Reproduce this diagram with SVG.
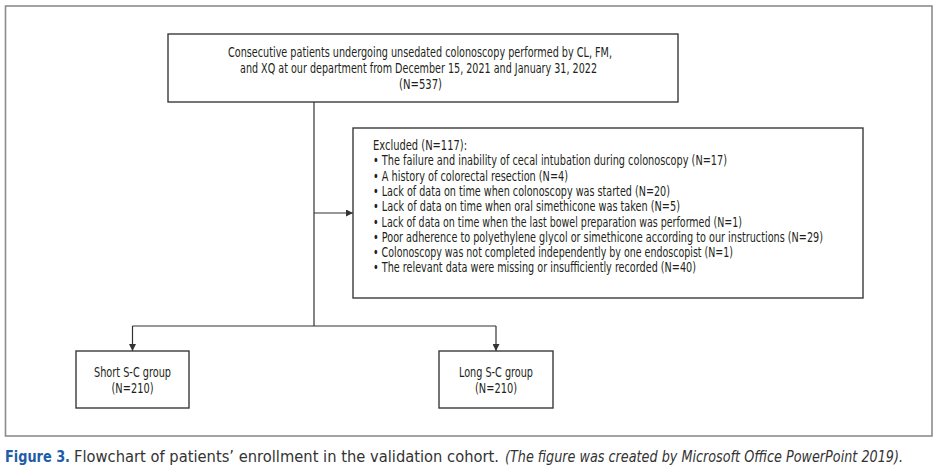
<svg xmlns="http://www.w3.org/2000/svg" width="937" height="473" viewBox="0 0 937 473">
<defs>
<style>
.t{font-family:"Liberation Sans Narrow","DejaVu Sans Condensed","Liberation Sans",sans-serif;font-size:14.5px;fill:#231f20}
.box{fill:#fff;stroke:#3a3a3a;stroke-width:1.4}
.con{fill:none;stroke:#333;stroke-width:1.2}
.cap{font-family:"Liberation Sans Narrow","DejaVu Sans Condensed","Liberation Sans",sans-serif;font-size:15.5px;fill:#333}
</style>
<marker id="ah" viewBox="0 0 10 10" refX="10" refY="5" markerWidth="7" markerHeight="7" markerUnits="userSpaceOnUse" orient="auto">
<path d="M0,0 L10,5 L0,10 z" fill="#333"/>
</marker>
</defs>
<rect x="0" y="0" width="937" height="473" fill="#fff"/>
<rect x="5.5" y="6" width="926.5" height="430" fill="none" stroke="#8c8c8c" stroke-width="1.6"/>

<g id="connectors">
<line class="con" x1="314" y1="102" x2="314" y2="326"/>
<line class="con" x1="314" y1="213" x2="353" y2="213" marker-end="url(#ah)"/>
<polyline class="con" points="132.5,326 496,326"/>
<line class="con" x1="132.5" y1="326" x2="132.5" y2="351" marker-end="url(#ah)"/>
<line class="con" x1="496" y1="326" x2="496" y2="351" marker-end="url(#ah)"/>
</g>

<g id="top">
<rect class="box" x="168" y="34" width="510" height="68"/>
<text class="t" x="228" y="56.5" textLength="384" lengthAdjust="spacingAndGlyphs">Consecutive patients undergoing unsedated colonoscopy performed by CL, FM,</text>
<text class="t" x="240" y="72.5" textLength="357" lengthAdjust="spacingAndGlyphs">and XQ at our department from December 15, 2021 and January 31, 2022</text>
<text class="t" x="399" y="88.5" textLength="43" lengthAdjust="spacingAndGlyphs">(N=537)</text>
</g>

<g id="excluded">
<rect class="box" x="353" y="128" width="510" height="170" stroke="#555" stroke-width="1.6"/>
<text class="t" x="373" y="150" textLength="94" lengthAdjust="spacingAndGlyphs">Excluded (N=117):</text>
<text class="t" x="373" y="165.3" textLength="354" lengthAdjust="spacingAndGlyphs">• The failure and inability of cecal intubation during colonoscopy (N=17)</text>
<text class="t" x="373" y="180.6" textLength="195" lengthAdjust="spacingAndGlyphs">• A history of colorectal resection (N=4)</text>
<text class="t" x="373" y="195.9" textLength="297" lengthAdjust="spacingAndGlyphs">• Lack of data on time when colonoscopy was started (N=20)</text>
<text class="t" x="373" y="211.2" textLength="307" lengthAdjust="spacingAndGlyphs">• Lack of data on time when oral simethicone was taken (N=5)</text>
<text class="t" x="373" y="226.5" textLength="369" lengthAdjust="spacingAndGlyphs">• Lack of data on time when the last bowel preparation was performed (N=1)</text>
<text class="t" x="373" y="241.8" textLength="450" lengthAdjust="spacingAndGlyphs">• Poor adherence to polyethylene glycol or simethicone according to our instructions (N=29)</text>
<text class="t" x="373" y="257.1" textLength="360" lengthAdjust="spacingAndGlyphs">• Colonoscopy was not completed independently by one endoscopist (N=1)</text>
<text class="t" x="373" y="272.4" textLength="323" lengthAdjust="spacingAndGlyphs">• The relevant data were missing or insufficiently recorded (N=40)</text>
</g>

<g id="short">
<rect class="box" x="76" y="351" width="113" height="57"/>
<text class="t" x="132.5" y="377" text-anchor="middle" textLength="77" lengthAdjust="spacingAndGlyphs">Short S-C group</text>
<text class="t" x="132.5" y="393" text-anchor="middle" textLength="42" lengthAdjust="spacingAndGlyphs">(N=210)</text>
</g>

<g id="long">
<rect class="box" x="439" y="351" width="114" height="57"/>
<text class="t" x="496" y="377" text-anchor="middle" textLength="74" lengthAdjust="spacingAndGlyphs">Long S-C group</text>
<text class="t" x="496" y="393" text-anchor="middle" textLength="42" lengthAdjust="spacingAndGlyphs">(N=210)</text>
</g>

<text class="cap" x="5" y="462" textLength="65" lengthAdjust="spacingAndGlyphs" font-weight="bold" style="fill:#1f5ca8">Figure 3.</text>
<text class="cap" x="74" y="462" textLength="425" lengthAdjust="spacingAndGlyphs">Flowchart of patients’ enrollment in the validation cohort.</text>
<text class="cap" x="505" y="462" textLength="398" lengthAdjust="spacingAndGlyphs" font-style="italic">(The figure was created by Microsoft Office PowerPoint 2019).</text>
</svg>
